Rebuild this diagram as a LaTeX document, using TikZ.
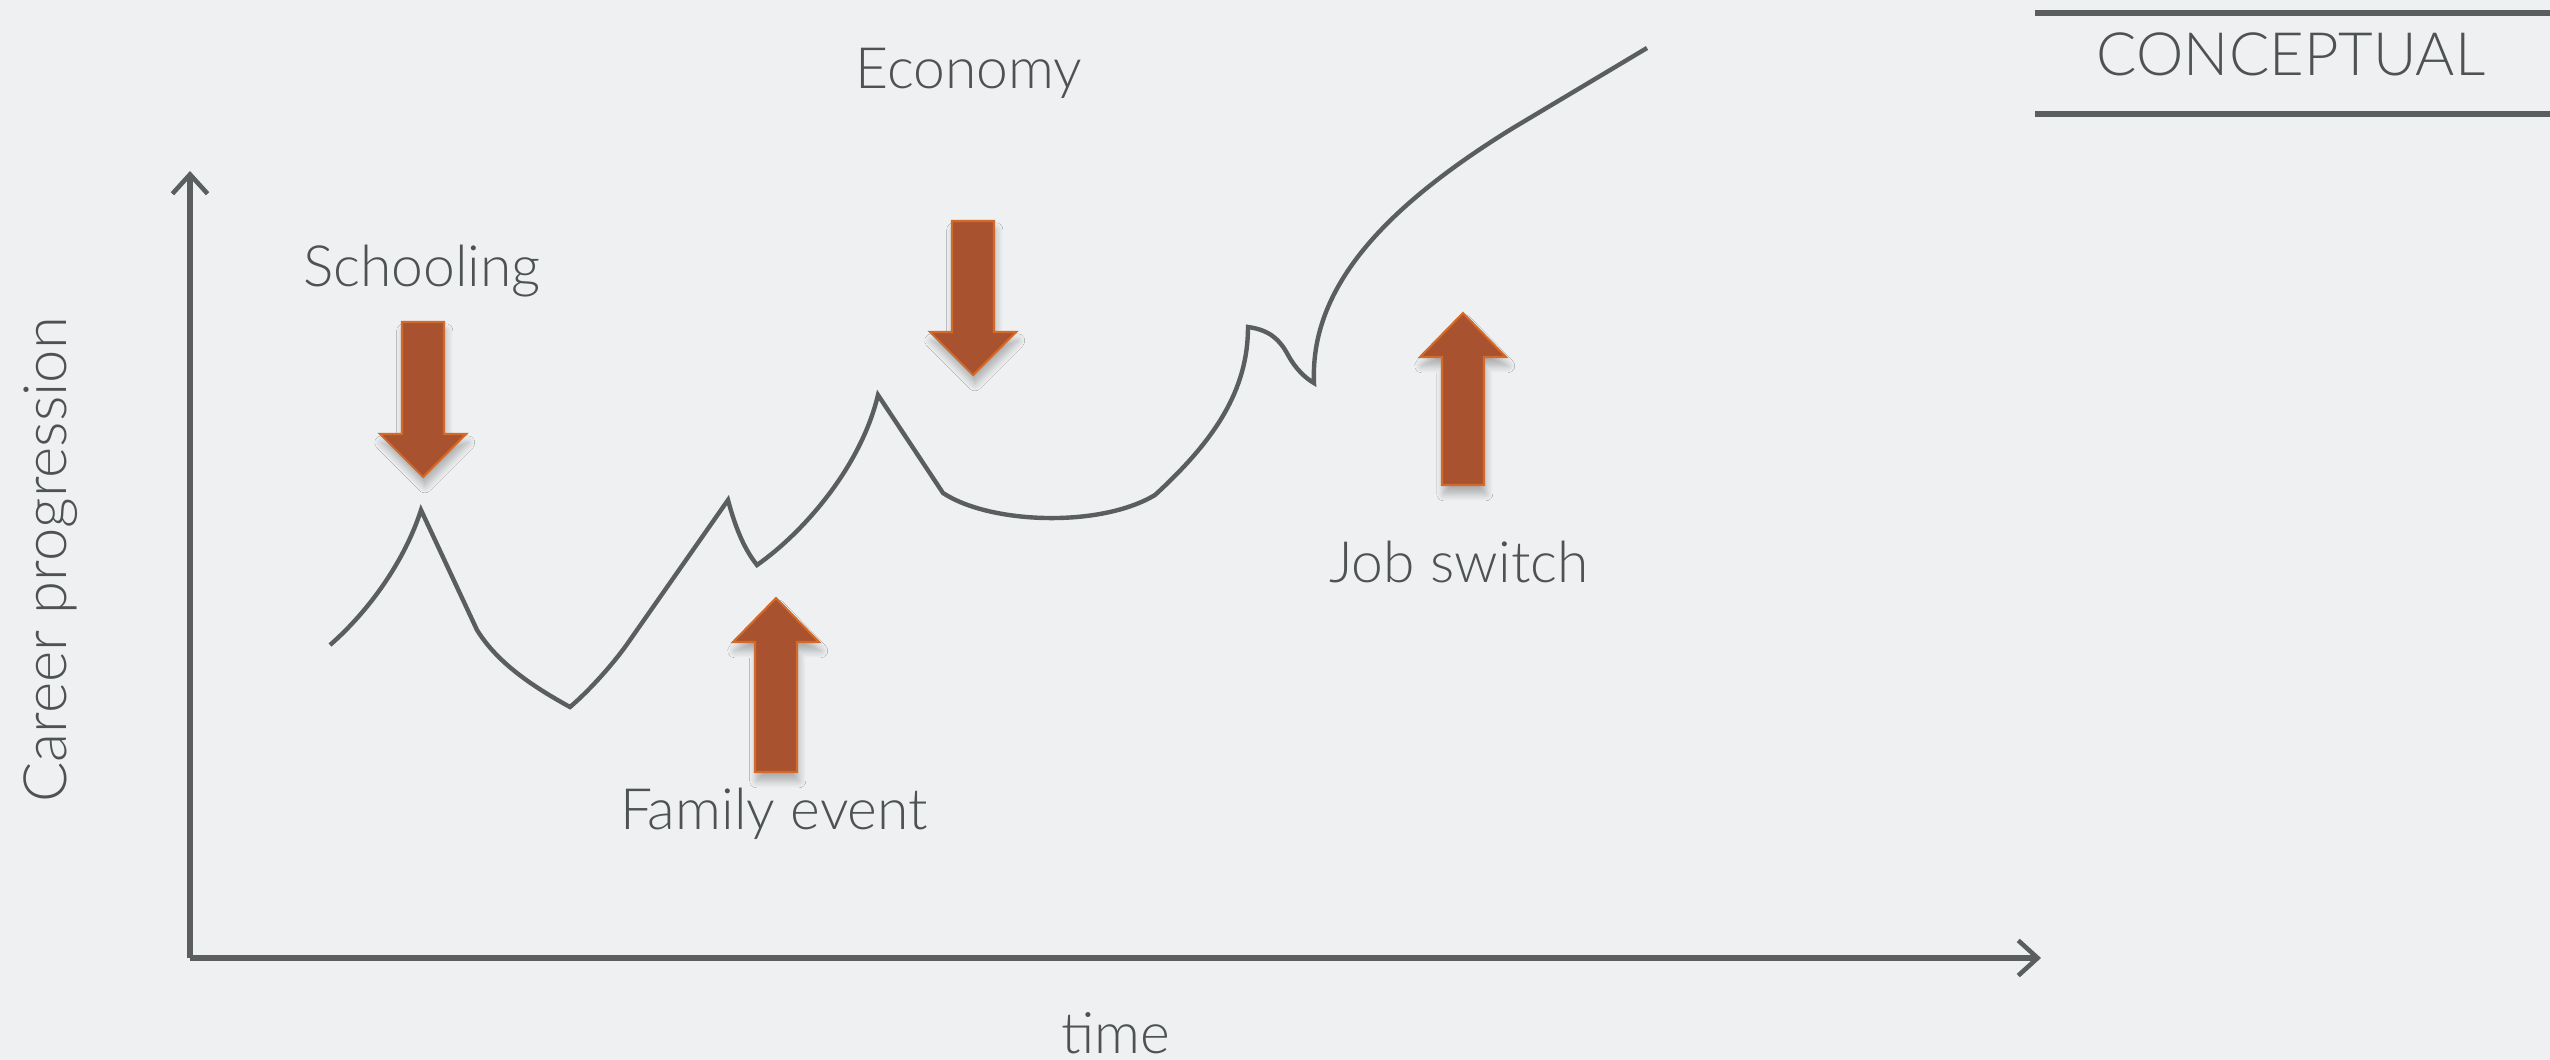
\documentclass[tikz,border=0pt]{standalone}
\usepackage{fontspec}
\IfFontExistsTF{Lato Light}{\setmainfont{Lato Light}}{\setmainfont{Lato}}
\usetikzlibrary{arrows.meta,shadows.blur}

\definecolor{bg}{HTML}{EEF0F2}
\definecolor{ink}{HTML}{5A5E5D}
\definecolor{txt}{HTML}{4E5251}
\definecolor{brick}{HTML}{A9522F}
\definecolor{rim}{HTML}{D46A2A}

\begin{document}
\begin{tikzpicture}[x=0.01cm,y=-0.01cm,
  axis/.style={line width=1.45pt, draw=ink,
    -{Straight Barb[length=5.5pt,width=10pt,line width=1.3pt]}},
  career/.style={line width=1.25pt, draw=ink, line join=miter},
  rule/.style={line width=1.45pt, draw=ink},
  lbl/.style={font=\fontsize{16.2}{19}\selectfont, text=txt, anchor=base, inner sep=0pt},
  blockarrow/.style={fill=brick, draw=rim, line width=0.6pt, line join=miter,
    blur shadow={shadow xshift=0.5pt, shadow yshift=-2.5pt, shadow blur radius=2pt,
      shadow blur steps=8, shadow opacity=28}}
]
% page background
\fill[bg] (0,0) rectangle (2550,1060);
\useasboundingbox (0,0) rectangle (2550,1060);

% axes
\coordinate (origin) at (190,958);
\coordinate (ytop) at (190,171);
\coordinate (xend) at (2041,958);
\draw[axis] (origin) -- (ytop);
\draw[axis] (origin) -- (xend);

% header rules
\coordinate (r1a) at (2035,13);  \coordinate (r1b) at (2550,13);
\coordinate (r2a) at (2035,114); \coordinate (r2b) at (2550,114);
\draw[rule] (r1a) -- (r1b);
\draw[rule] (r2a) -- (r2b);

% labels
\node[lbl, font=\fontsize{17}{20}\selectfont] (concept) at (2291,75) {CONCEPTUAL};
\node[lbl] (economy) at (969,88) {Economy};
\node[lbl] (school) at (422,286) {Schooling};
\node[lbl] (family) at (774,829) {Family event};
\node[lbl] (job) at (1459,582) {Job switch};
\node[lbl] (time) at (1116,1053) {time};
\node[lbl, font=\fontsize{17}{20}\selectfont, rotate=90] (yl) at (67,560) {Career progression};

% career path
\draw[career] (330,645)
  .. controls (370,610) and (405,560) .. (421,510)
  -- (477,630)
  .. controls (497,662) and (530,685) .. (570,707)
  .. controls (590,690) and (615,662) .. (630,640)
  -- (728,500)
  .. controls (736,530) and (745,550) .. (757,565)
  .. controls (800,535) and (860,470) .. (878,395)
  -- (943,493)
  .. controls (990,524) and (1100,528) .. (1155,495)
  .. controls (1215,440) and (1248,390) .. (1248,327)
  .. controls (1270,330) and (1280,340) .. (1288,355)
  .. controls (1295,368) and (1305,378) .. (1314,383)
  .. controls (1310,290) and (1380,210) .. (1513,128)
  -- (1647,48);

% event arrows (down: schooling, economy; up: family, job)
\filldraw[blockarrow] (423,477) -- ++(-43,-43) -- ++(22,0) -- ++(0,-112)
  -- ++(42,0) -- ++(0,112) -- ++(22,0) -- cycle;
\filldraw[blockarrow] (973,375) -- ++(-43,-43) -- ++(22,0) -- ++(0,-111)
  -- ++(42,0) -- ++(0,111) -- ++(22,0) -- cycle;
\filldraw[blockarrow] (776,598) -- ++(-43,44) -- ++(22,0) -- ++(0,130)
  -- ++(42,0) -- ++(0,-130) -- ++(22,0) -- cycle;
\filldraw[blockarrow] (1463,313) -- ++(-43,44) -- ++(22,0) -- ++(0,128)
  -- ++(42,0) -- ++(0,-128) -- ++(22,0) -- cycle;
\end{tikzpicture}
\end{document}
